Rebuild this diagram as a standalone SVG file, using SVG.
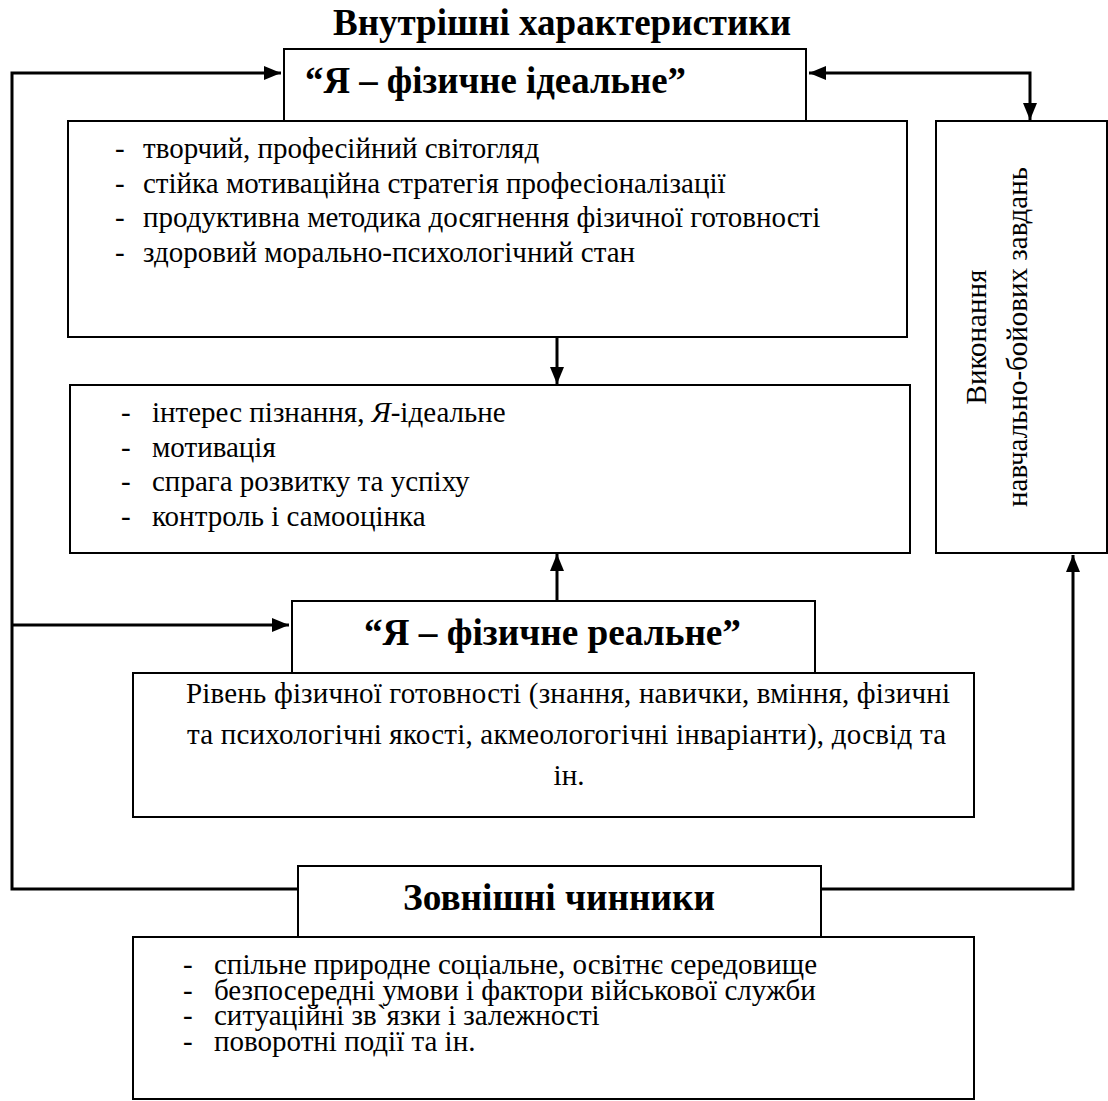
<svg xmlns="http://www.w3.org/2000/svg" width="1108" height="1101" viewBox="0 0 1108 1101">
<defs>
<style>
.box{fill:#fff;stroke:#000;stroke-width:2}
.t{font-family:"Liberation Serif","Times New Roman",serif;font-size:29px;fill:#000}
.b{font-family:"Liberation Serif","Times New Roman",serif;font-size:37px;font-weight:bold;fill:#000}
.c{fill:none;stroke:#000;stroke-width:3}
</style>
<marker id="ah" markerUnits="userSpaceOnUse" markerWidth="18" markerHeight="14" refX="17" refY="7" orient="auto-start-reverse">
<path d="M0,0 L17,7 L0,14 z" fill="#000"/>
</marker>
</defs>
<rect width="1108" height="1101" fill="#fff"/>
<text class="b" x="333" y="35" textLength="458" lengthAdjust="spacingAndGlyphs">Внутрішні характеристики</text>

<g id="connectors">
<path class="c" d="M298,889 H12 V73 H281" marker-end="url(#ah)"/>
<path class="c" d="M12,625 H289" marker-end="url(#ah)"/>
<path class="c" d="M821,889 H1073 V555" marker-end="url(#ah)"/>
<path class="c" d="M809,73 H1030 V120" marker-start="url(#ah)" marker-end="url(#ah)"/>
<path class="c" d="M557,337 V384" marker-end="url(#ah)"/>
<path class="c" d="M557,601 V554" marker-end="url(#ah)"/>
</g>

<g id="ideal-list">
<rect class="box" x="68" y="121" width="839" height="216"/>
<text class="t" x="115" y="158">-</text><text class="t" x="143" y="158">творчий, професійний світогляд</text>
<text class="t" x="115" y="192.5">-</text><text class="t" x="143" y="192.5">стійка мотиваційна стратегія професіоналізації</text>
<text class="t" x="115" y="227">-</text><text class="t" x="143" y="227">продуктивна методика досягнення фізичної готовності</text>
<text class="t" x="115" y="261.5">-</text><text class="t" x="143" y="261.5">здоровий морально-психологічний стан</text>
</g>

<g id="ideal">
<rect class="box" x="284" y="49" width="522" height="72"/>
<text class="b" x="305" y="93" textLength="381" lengthAdjust="spacingAndGlyphs">“Я – фізичне ідеальне”</text>
</g>

<g id="tasks">
<rect class="box" x="936" y="121" width="171" height="432"/>
<text class="t" transform="translate(986,337) rotate(-90)" text-anchor="middle">Виконання</text>
<text class="t" transform="translate(1027,337) rotate(-90)" text-anchor="middle">навчально-бойових завдань</text>
</g>

<g id="middle-list">
<rect class="box" x="70" y="385" width="840" height="168"/>
<text class="t" x="121" y="422">-</text><text class="t" x="152" y="422">інтерес пізнання, <tspan font-style="italic">Я</tspan>-ідеальне</text>
<text class="t" x="121" y="456.5">-</text><text class="t" x="152" y="456.5">мотивація</text>
<text class="t" x="121" y="491">-</text><text class="t" x="152" y="491">спрага розвитку та успіху</text>
<text class="t" x="121" y="525.5">-</text><text class="t" x="152" y="525.5">контроль і самооцінка</text>
</g>

<g id="real-desc">
<rect class="box" x="133" y="673" width="841" height="144"/>
<text class="t" x="186" y="703" textLength="764" lengthAdjust="spacing">Рівень фізичної готовності (знання, навички, вміння, фізичні</text>
<text class="t" x="187" y="744" textLength="759" lengthAdjust="spacing">та психологічні якості, акмеологогічні інваріанти), досвід та</text>
<text class="t" x="569" y="785" text-anchor="middle">ін.</text>
</g>

<g id="real">
<rect class="box" x="292" y="601" width="523" height="72"/>
<text class="b" x="364" y="645" textLength="377" lengthAdjust="spacingAndGlyphs">“Я – фізичне реальне”</text>
</g>

<g id="external-list">
<rect class="box" x="133" y="937" width="841" height="162"/>
<text class="t" x="183" y="974">-</text><text class="t" x="214" y="974">спільне природне соціальне, освітнє середовище</text>
<text class="t" x="183" y="999.5">-</text><text class="t" x="214" y="999.5">безпосередні умови і фактори військової служби</text>
<text class="t" x="183" y="1025">-</text><text class="t" x="214" y="1025">ситуаційні зв`язки і залежності</text>
<text class="t" x="183" y="1050.5">-</text><text class="t" x="214" y="1050.5">поворотні події та ін.</text>
</g>

<g id="external">
<rect class="box" x="298" y="866" width="523" height="71"/>
<text class="b" x="403" y="910" textLength="312" lengthAdjust="spacingAndGlyphs">Зовнішні чинники</text>
</g>
</svg>
